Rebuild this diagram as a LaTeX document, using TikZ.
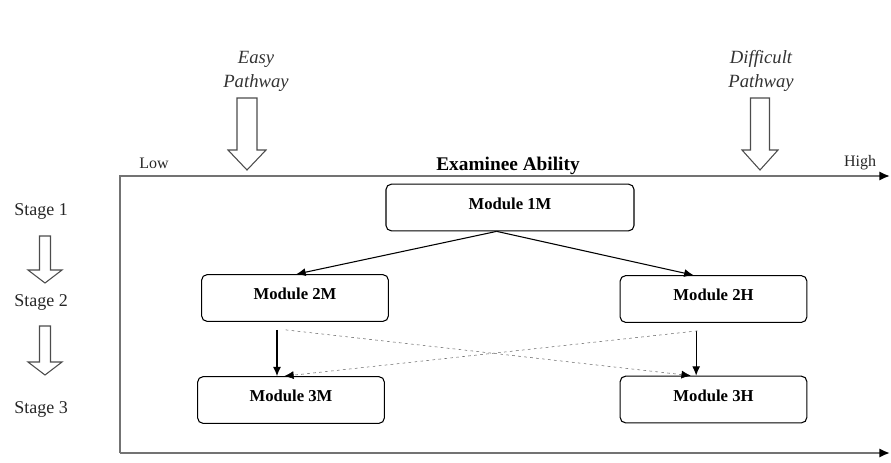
\documentclass[tikz,border=0pt]{standalone}
\usepackage{fontspec}
\setmainfont{Liberation Serif}
\usetikzlibrary{arrows.meta}

\begin{document}
\begin{tikzpicture}[x=0.75pt,y=-0.75pt,
    module/.style={draw=black,thick,rounded corners=4pt,minimum width=140pt,
        inner ysep=4pt,text height=14.8pt,text depth=12.2pt,
        font=\fontsize{12.5}{14}\selectfont\bfseries},
    stagelbl/.style={text=black!85,font=\fontsize{13.5}{16}\selectfont},
    endlbl/.style={text=black!85,font=\fontsize{12}{14}\selectfont},
    pathlbl/.style={align=center,text=black!80,font=\fontsize{14}{18}\selectfont\itshape},
    axisline/.style={draw=black!55,line width=1.5pt,-{Latex[length=8pt,width=7pt,black]}},
    link/.style={thick,-{Latex[length=7pt,width=6pt]}},
    crosslink/.style={draw=black!60,dash pattern=on 2pt off 2.5pt,-{Latex[length=7pt,width=6pt,black]}},
    bigarrow/.style={draw=black!70,fill=white,line width=0.8pt}]

\useasboundingbox (0,0) rectangle (891,462);

% frame
\draw[axisline] (120,453) -- (120,176) -- (890,176);
\draw[axisline] (120,453) -- (890,453);

    \node[endlbl] (low) at (154,163) {Low};
    \node[endlbl] (high) at (860,163) {High};
    \node[font=\fontsize{14.5}{16}\selectfont\bfseries] (ability) at (508,166) {Examinee Ability};

    \node[pathlbl] (easy) at (256,71) {Easy\\Pathway};
    \node[pathlbl] (difficult) at (761,71) {Difficult\\Pathway};

    \node[stagelbl] (s1) at (41,211) {Stage 1};
    \node[stagelbl] (s2) at (41,302) {Stage 2};
    \node[stagelbl] (s3) at (41,409) {Stage 3};

% block arrows
\foreach \x/\top/\base/\tip/\sw/\hw in {247/98/150/170/10/19, 760/98/150/170/9.5/18,
        45/236/270/283/5.5/17, 45/326/362/375/5.5/17}
    \draw[bigarrow] (\x-\sw,\top) -- (\x+\sw,\top) -- (\x+\sw,\base) -- (\x+\hw,\base)
        -- (\x,\tip) -- (\x-\hw,\base) -- (\x-\sw,\base) -- cycle;

    \node[module,minimum width=186pt] (m1) at (510,207.5) {Module 1M};
    \node[module] (m2m) at (295,298) {Module 2M};
    \node[module] (m2h) at (713.5,299) {Module 2H};
    \node[module] (m3m) at (291,400) {Module 3M};
    \node[module] (m3h) at (713.5,399.5) {Module 3H};

    \draw[link] ([xshift=-10pt]m1.south) -- ([xshift=1pt]m2m.north);
    \draw[link] ([xshift=-10pt]m1.south) -- ([xshift=-15pt]m2h.north);
    \draw[link] ([xshift=-13.5pt,yshift=-6pt]m2m.south) -- ([xshift=-10.5pt]m3m.north);
    \draw[link] ([xshift=-13pt,yshift=-6pt]m2h.south) -- ([xshift=-13pt]m3h.north);
    \draw[crosslink] ([xshift=-7pt,yshift=-6pt]m2m.south) -- ([xshift=-17pt]m3h.north);
    \draw[crosslink] ([xshift=-12pt,yshift=-6pt]m2h.south) -- ([xshift=-5pt]m3m.north);
\end{tikzpicture}
\end{document}
